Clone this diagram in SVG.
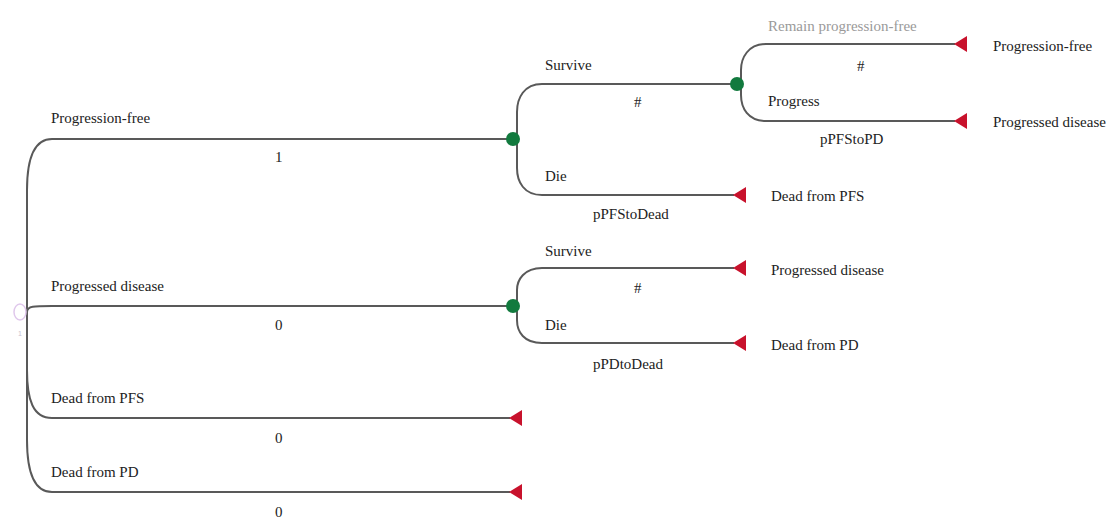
<svg xmlns="http://www.w3.org/2000/svg" width="1109" height="518" viewBox="0 0 1109 518">
  <style>
    .edge { fill: none; stroke: #595959; stroke-width: 2; }
    .lbl { font-family: "Liberation Serif", "Times New Roman", serif; font-size: 15px; fill: #222; }
    .faint { fill: #9a9a9a; }
    .chance { fill: #127a3e; }
    .term { fill: #c8122c; }
  </style>
  <defs>
    <polygon id="tri" points="0,0 13,-8 13,8"/>
  </defs>
  <rect width="1109" height="518" fill="#ffffff"/>

  <g id="connectors">
    <!-- root to its four branches -->
    <path class="edge" d="M27,312 L27,190 C27,160 33,139 52,139 L513,139"/>
    <path class="edge" d="M27,312 C27,306 34,306 52,306 L513,306"/>
    <path class="edge" d="M27,312 L27,370 C27,400 33,418 52,418 L510,418"/>
    <path class="edge" d="M27,312 L27,440 C27,470 33,492 52,492 L510,492"/>
    <!-- progression-free chance node -->
    <path class="edge" d="M542,84 C524,84 517,98 517,112 L517,168 C517,182 524,195 542,195"/>
    <path class="edge" d="M542,84 L737,84"/>
    <path class="edge" d="M542,195 L734,195"/>
    <!-- survive chance node -->
    <path class="edge" d="M766,44 C748,44 741,58 741,70 L741,95 C741,108 748,121 766,121"/>
    <path class="edge" d="M766,44 L955,44"/>
    <path class="edge" d="M766,121 L955,121"/>
    <!-- progressed disease chance node -->
    <path class="edge" d="M542,268 C524,268 517,280 517,290 L517,320 C517,332 524,343 542,343"/>
    <path class="edge" d="M542,268 L734,268"/>
    <path class="edge" d="M542,343 L734,343"/>
  </g>

  <g id="root">
    <ellipse cx="20" cy="312" rx="6" ry="8" fill="none" stroke="#e0c8ec" stroke-width="1.5"/>
    <text x="20" y="336" font-family="Liberation Sans, sans-serif" font-size="7" fill="#c8c0d0" text-anchor="middle">1</text>
  </g>

  <g id="branch-pfs">
    <text class="lbl" x="51" y="123">Progression-free</text>
    <text class="lbl" x="275" y="162">1</text>
  </g>
  <g id="branch-pd">
    <text class="lbl" x="51" y="291">Progressed disease</text>
    <text class="lbl" x="275" y="330">0</text>
  </g>
  <g id="branch-dead-pfs">
    <text class="lbl" x="51" y="403">Dead from PFS</text>
    <text class="lbl" x="275" y="443">0</text>
    <use href="#tri" class="term" x="509" y="418"/>
  </g>
  <g id="branch-dead-pd">
    <text class="lbl" x="51" y="477">Dead from PD</text>
    <text class="lbl" x="275" y="517">0</text>
    <use href="#tri" class="term" x="509" y="492"/>
  </g>

  <g id="node-pfs">
    <circle class="chance" cx="513" cy="139" r="7"/>
    <text class="lbl" x="545" y="70">Survive</text>
    <text class="lbl" x="634" y="107">#</text>
    <text class="lbl" x="545" y="181">Die</text>
    <text class="lbl" x="593" y="219">pPFStoDead</text>
  </g>
  <g id="node-survive">
    <circle class="chance" cx="737" cy="84" r="7"/>
    <text class="lbl faint" x="768" y="31">Remain progression-free</text>
    <text class="lbl" x="857" y="71">#</text>
    <text class="lbl" x="768" y="106">Progress</text>
    <text class="lbl" x="820" y="144">pPFStoPD</text>
  </g>
  <g id="term-pf">
    <use href="#tri" class="term" x="954" y="44"/>
    <text class="lbl" x="993" y="51">Progression-free</text>
  </g>
  <g id="term-pd">
    <use href="#tri" class="term" x="954" y="121"/>
    <text class="lbl" x="993" y="127">Progressed disease</text>
  </g>
  <g id="term-dead-pfs">
    <use href="#tri" class="term" x="733" y="195"/>
    <text class="lbl" x="771" y="201">Dead from PFS</text>
  </g>

  <g id="node-pd">
    <circle class="chance" cx="513" cy="306" r="7"/>
    <text class="lbl" x="545" y="256">Survive</text>
    <text class="lbl" x="634" y="293">#</text>
    <text class="lbl" x="545" y="330">Die</text>
    <text class="lbl" x="593" y="369">pPDtoDead</text>
  </g>
  <g id="term-pd-survive">
    <use href="#tri" class="term" x="733" y="268"/>
    <text class="lbl" x="771" y="275">Progressed disease</text>
  </g>
  <g id="term-pd-dead">
    <use href="#tri" class="term" x="733" y="343"/>
    <text class="lbl" x="771" y="350">Dead from PD</text>
  </g>
</svg>
